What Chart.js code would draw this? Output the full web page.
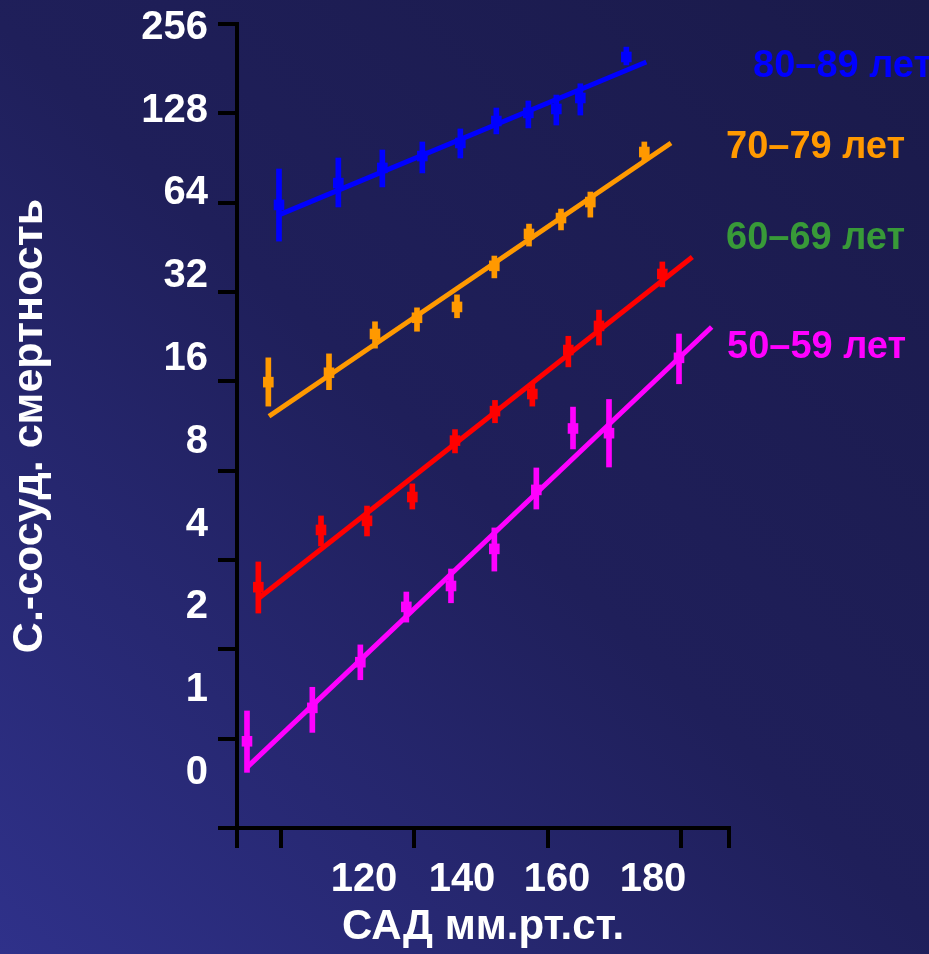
<!DOCTYPE html>
<html>
<head>
<meta charset="utf-8">
<script src="https://cdn.jsdelivr.net/npm/chart.js@4"></script>
<style>
  html, body { margin: 0; padding: 0; background: #1f1f5a; overflow: hidden; }
  canvas { display: block; }
</style>
</head>
<body>
<canvas id="chart" width="929" height="954"></canvas>
<script>
// ---------------- DATA ----------------
const ageLabels = ['50–59 лет', '60–69 лет', '70–79 лет', '80–89 лет'];
const xAxisTitle = 'САД мм.рт.ст.';
const yAxisTitle = 'С.-сосуд. смертность';
const yTickValues = [0.5, 1, 2, 4, 8, 16, 32, 64, 128, 256];
const yTickLabels = ['0', '1', '2', '4', '8', '16', '32', '64', '128', '256'];
const xTickValues = [120, 140, 160, 180];
const xTickLabels = ['120', '140', '160', '180'];

// 50–59
const sbp50  = [114.9, 124.7, 131.9, 138.8, 145.5, 152.0, 158.3, 163.8, 169.2, 179.7];
const mort50 = [0.98, 1.27, 1.81, 2.78, 3.27, 4.36, 6.89, 11.1, 10.7, 19.2];
const lo50   = [0.77, 1.05, 1.58, 2.47, 2.87, 3.67, 5.94, 9.47, 8.23, 15.7];
const hi50   = [1.24, 1.49, 2.07, 3.12, 3.73, 5.13, 8.17, 13.1, 13.9, 23.1];
const fitX50 = [114.9, 184.6];
const fitY50 = [0.80, 24.4];

// 60–69
const sbp60  = [116.6, 126.0, 132.9, 139.7, 146.1, 152.1, 157.7, 163.1, 167.7, 177.2];
const mort60 = [3.24, 5.05, 5.42, 6.52, 10.1, 12.7, 14.5, 20.4, 24.6, 36.8];
const lo60   = [2.65, 4.46, 4.82, 5.94, 9.18, 11.6, 13.2, 17.9, 21.2, 33.3];
const hi60   = [3.94, 5.63, 6.08, 7.22, 11.0, 13.8, 15.8, 22.7, 27.8, 40.4];
const fitX60 = [116.7, 181.7];
const fitY60 = [2.98, 42.0];

// 70–79
const sbp70  = [118.1, 127.2, 134.1, 140.4, 146.4, 152.0, 157.2, 162.0, 166.4, 174.5];
const mort70 = [15.9, 17.1, 23.1, 26.2, 28.5, 39.2, 50.2, 56.8, 64.3, 94.8];
const lo70   = [13.2, 15.0, 20.7, 23.6, 26.2, 35.7, 45.7, 51.8, 57.2, 88.4];
const hi70   = [19.2, 19.8, 25.4, 28.3, 31.3, 42.3, 54.2, 60.9, 69.5, 102.5];
const fitX70 = [118.2, 178.5];
const fitY70 = [12.2, 101.7];

// 80–89
const sbp80  = [119.7, 128.6, 135.2, 141.2, 146.9, 152.3, 157.1, 161.3, 164.9, 171.8];
const mort80 = [62.9, 74.5, 83.8, 91.9, 101.7, 120.6, 128.4, 132.4, 144.2, 198.2];
const lo80   = [47.5, 61.9, 72.3, 80.6, 90.5, 109.1, 114.3, 116.9, 126.3, 186.3];
const hi80   = [83.1, 90.5, 96.3, 102.5, 113.4, 133.4, 140.9, 147.5, 161.0, 214.0];
const fitX80 = [119.7, 174.8];
const fitY80 = [58.2, 190.7];

// ---------------- STYLE / LAYOUT ----------------
const FONT = "'Liberation Sans', Arial, Helvetica, sans-serif";
const seriesColors = ['#ff00ff', '#ff0000', '#ff9900', '#0000ff'];
const labelColors  = ['#ff00ff', '#389a38', '#ff9900', '#0000ff'];
const X_MIN = 113.4, X_MAX = 187.2;
const Y_MIN = 0.5, Y_MAX = 256;
const xLabelAt = [132.45, 147.15, 161.4, 175.8];   // where the (shifted) x labels sit
const yLabMin = -0.664, yLabMax = 9.046;             // the (shifted) y label track
const ageLabelPos = [{x: 727, y: 348}, {x: 726, y: 239}, {x: 726, y: 148}, {x: 753, y: 67}];

const series = [
  {sbp: sbp50, mort: mort50, lo: lo50, hi: hi50, fx: fitX50, fy: fitY50},
  {sbp: sbp60, mort: mort60, lo: lo60, hi: hi60, fx: fitX60, fy: fitY60},
  {sbp: sbp70, mort: mort70, lo: lo70, hi: hi70, fx: fitX70, fy: fitY70},
  {sbp: sbp80, mort: mort80, lo: lo80, hi: hi80, fx: fitX80, fy: fitY80},
];

const datasets = [];
series.forEach((s, i) => {
  const c = seriesColors[i];
  datasets.push({
    type: 'line', label: ageLabels[i] + ' fit',
    data: s.fx.map((x, k) => ({x, y: s.fy[k]})),
    borderColor: c, borderWidth: 5, pointRadius: 0, fill: false, tension: 0,
    borderCapStyle: 'butt', xAxisID: 'x', yAxisID: 'y', order: 3
  });
  datasets.push({
    type: 'bar', label: ageLabels[i] + ' CI',
    data: s.sbp.map((x, k) => ({x, y: [s.lo[k], s.hi[k]]})),
    backgroundColor: c, borderWidth: 0, barThickness: 5, grouped: false,
    xAxisID: 'x', yAxisID: 'y', order: 2
  });
  datasets.push({
    type: 'scatter', label: ageLabels[i],
    data: s.sbp.map((x, k) => ({x, y: s.mort[k]})),
    backgroundColor: c, borderColor: c, borderWidth: 0,
    pointStyle: 'rect', pointRadius: 7.5, pointHoverRadius: 7.5,
    showLine: false, xAxisID: 'x', yAxisID: 'y', order: 1
  });
});

const bgPlugin = {
  id: 'bg',
  beforeDraw(chart) {
    const {ctx, width, height} = chart;
    ctx.save();
    const g = ctx.createLinearGradient(0, height, width, 0);
    g.addColorStop(0, '#2f318a');
    g.addColorStop(0.5, '#1f1f5a');
    g.addColorStop(1, '#1a1a4a');
    ctx.fillStyle = g;
    ctx.fillRect(0, 0, width, height);
    ctx.restore();
  }
};

const ageLabelPlugin = {
  id: 'ageLabels',
  afterDraw(chart) {
    const {ctx} = chart;
    ctx.save();
    ctx.font = "bold 38px " + FONT;
    ctx.textAlign = 'left';
    ctx.textBaseline = 'middle';
    ageLabels.forEach((t, i) => {
      ctx.fillStyle = labelColors[i];
      ctx.fillText(t, ageLabelPos[i].x, ageLabelPos[i].y);
    });
    ctx.restore();
  }
};

const tickFont = {family: FONT, size: 40, weight: 'bold'};

new Chart(document.getElementById('chart'), {
  type: 'scatter',
  data: {datasets},
  plugins: [bgPlugin, ageLabelPlugin],
  options: {
    responsive: false,
    animation: false,
    events: [],
    layout: {padding: {left: 0, top: 24, right: 200, bottom: 0}},
    plugins: {legend: {display: false}, tooltip: {enabled: false}},
    scales: {
      x: {
        type: 'linear', position: 'bottom', min: X_MIN, max: X_MAX, offset: false,
        afterBuildTicks: s => { s.ticks = [X_MIN, ...xTickValues, X_MAX].map(v => ({value: v})); },
        ticks: {display: false},
        grid: {display: true, drawOnChartArea: false, drawTicks: true, tickLength: 20,
               lineWidth: 4, color: '#000', offset: false},
        border: {display: true, color: '#000', width: 4},
        afterFit: s => { s.height = 20; }
      },
      xLab: {
        type: 'linear', position: 'bottom', weight: 1, min: X_MIN, max: X_MAX, offset: false,
        afterBuildTicks: s => { s.ticks = xLabelAt.map(v => ({value: v})); },
        ticks: {color: '#fff', font: tickFont, padding: 8, autoSkip: false,
                maxRotation: 0, minRotation: 0, callback: (v, i) => xTickLabels[i]},
        grid: {display: false, drawTicks: false},
        border: {display: false},
        title: {display: true, text: xAxisTitle, color: '#fff',
                font: {family: FONT, size: 42, weight: 'bold'}, padding: {top: 0, bottom: 1}},
        afterFit: s => { s.height = 106; s.paddingLeft = 0; s.paddingRight = 0; }
      },
      y: {
        type: 'logarithmic', position: 'left', min: Y_MIN, max: Y_MAX, beginAtZero: false,
        afterBuildTicks: s => { s.ticks = yTickValues.map(v => ({value: v})); },
        ticks: {display: false},
        grid: {display: true, drawOnChartArea: false, drawTicks: true, tickLength: 19,
               lineWidth: 4, color: '#000'},
        border: {display: true, color: '#000', width: 4},
        afterFit: s => { s.width = 19; }
      },
      yLab: {
        type: 'linear', position: 'left', weight: 1, min: yLabMin, max: yLabMax,
        afterBuildTicks: s => { s.ticks = yTickLabels.map((_, i) => ({value: i})); },
        ticks: {color: '#fff', font: tickFont, padding: 10, autoSkip: false,
                callback: (v, i) => yTickLabels[i]},
        grid: {display: false, drawTicks: false},
        border: {display: false},
        title: {display: true, text: yAxisTitle, color: '#fff',
                font: {family: FONT, size: 43, weight: 'bold'}, padding: {top: 4, bottom: 0}},
        afterFit: s => { s.width = 218; s.paddingTop = 0; s.paddingBottom = 0; }
      }
    }
  }
});
</script>
</body>
</html>
